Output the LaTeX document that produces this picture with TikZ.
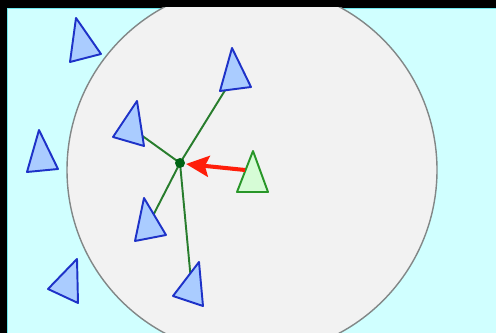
\documentclass[tikz,border=0pt]{standalone}
\usepackage{tikz}
\usepackage{xcolor}
\usetikzlibrary{arrows.meta,calc}
\definecolor{panelcyan}{RGB}{208,255,255}
\definecolor{paneledge}{RGB}{110,232,238}
\definecolor{rangegray}{RGB}{242,242,242}
\definecolor{rangeedge}{RGB}{130,135,135}
\definecolor{agentfill}{RGB}{170,204,255}
\definecolor{agentedge}{RGB}{30,50,200}
\definecolor{selffill}{RGB}{214,252,214}
\definecolor{selfedge}{RGB}{40,150,40}
\definecolor{linkgreen}{RGB}{40,125,45}
\definecolor{hubgreen}{RGB}{0,100,20}
\definecolor{steerred}{RGB}{255,30,10}

\tikzset{
  agent/.style={draw=agentedge,fill=agentfill,line width=1.1pt,line join=round},
  selfagent/.style={draw=selfedge,fill=selffill,line width=1.1pt,line join=round},
  link/.style={draw=linkgreen,line width=1.1pt},
  steer/.style={draw=steerred,line width=2.3pt,-{Stealth[length=0.46cm,width=0.42cm,inset=0.08cm]}}
}

% triangle with a named centroid
\newcommand{\boid}[5]{%
  \draw[#1] #3 -- #4 -- #5 -- cycle;
  \coordinate (#2) at ($1/3*#3+1/3*#4+1/3*#5$);
}

\begin{document}
\begin{tikzpicture}[x=0.02cm,y=-0.02cm]
    \useasboundingbox (0,0) rectangle (496,333);
    % frame
    \fill[black] (0,0) rectangle (496,333);
    \fill[panelcyan] (7,8) rectangle (496,333);
    \draw[paneledge,line width=0.6pt] (7.5,333) -- (7.5,8.5) -- (496,8.5);

    % neighbourhood radius
    \begin{scope}
      \clip (7,8) rectangle (496,333);
      \draw[fill=rangegray,draw=rangeedge,line width=0.8pt] (252,170) circle (185);
    \end{scope}

    % agents outside the radius
    \boid{agent}{far1}{(76,18)}{(101,54)}{(70,62)}
    \boid{agent}{far2}{(39,130)}{(58,169)}{(27,172)}
    \boid{agent}{far3}{(77,259)}{(78,303)}{(48,289)}

    % hub and links to the neighbours
    \coordinate (hub) at (180,163);
    \coordinate (nb1) at ($1/3*(232,48)+1/3*(251,87)+1/3*(220,91)$);
    \coordinate (nb2) at ($1/3*(137,101)+1/3*(144,146)+1/3*(113,137)$);
    \coordinate (nb3) at ($1/3*(144,198)+1/3*(166,235)+1/3*(135,241)$);
    \coordinate (nb4) at ($1/3*(199,262)+1/3*(203,306)+1/3*(173,296)$);
    \foreach \n in {nb1,nb2,nb3,nb4}
      \draw[link] (hub) -- (\n);

    % neighbours
    \boid{agent}{nb1}{(232,48)}{(251,87)}{(220,91)}
    \boid{agent}{nb2}{(137,101)}{(144,146)}{(113,137)}
    \boid{agent}{nb3}{(144,198)}{(166,235)}{(135,241)}
    \boid{agent}{nb4}{(199,262)}{(203,306)}{(173,296)}

    % the agent itself
    \boid{selfagent}{me}{(253,151)}{(268,192)}{(237,192)}
    \coordinate (tail) at (245,170);
    \draw[steer] (tail) -- ($(hub)+(6,1)$);

    \fill[hubgreen] (hub) circle (5);
  \end{tikzpicture}
\end{document}
